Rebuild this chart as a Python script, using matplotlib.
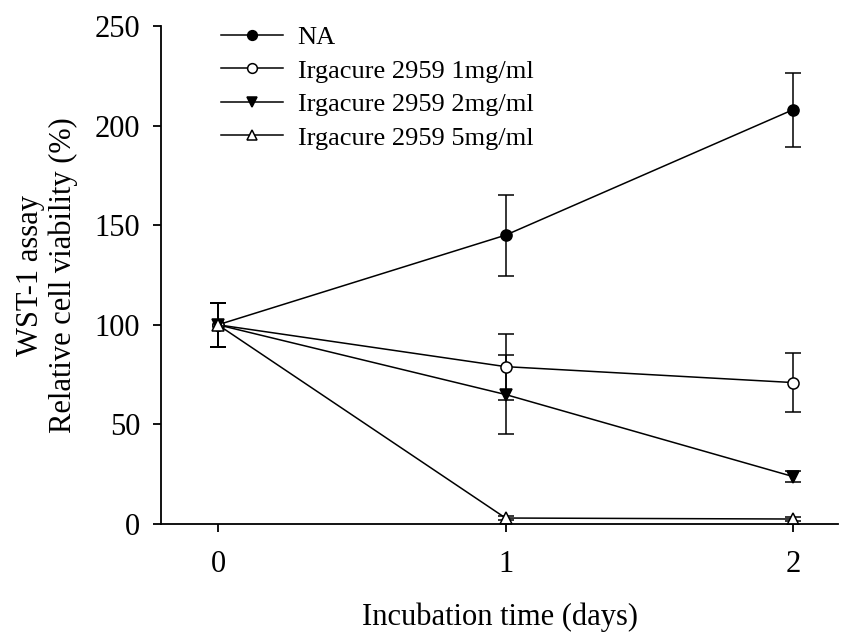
import matplotlib.pyplot as plt
from matplotlib.lines import Line2D

plt.rcParams['font.family'] = ['Liberation Serif', 'DejaVu Serif']

days = [0, 1, 2]
labels = ['NA', 'Irgacure 2959 1mg/ml', 'Irgacure 2959 2mg/ml', 'Irgacure 2959 5mg/ml']
na = [100, 145, 208]
na_err = [11, 20.4, 18.6]
irg1 = [100, 79, 71]
irg1_err = [11, 16.6, 14.6]
irg2 = [100, 65, 23.8]
irg2_err = [11, 20, 2.6]
irg5 = [100, 3, 2.5]
irg5_err = [11, 1, 1]

fig = plt.figure(figsize=(8.44, 6.35), dpi=100)
# axes box in pixels: left spine x=161, right end x=838, bottom y=524, top y=26
ax = fig.add_axes([161 / 844, 111 / 635, (838 - 161) / 844, 498 / 635])

series = [(na, na_err, 'o', 'black'),
          (irg1, irg1_err, 'o', 'white'),
          (irg2, irg2_err, 'v', 'black'),
          (irg5, irg5_err, '^', 'white')]
handles = []
for (vals, errs, mk, fc), lab in zip(series, labels):
    ax.errorbar(days, vals, yerr=errs, marker=mk, markersize=8, markerfacecolor=fc,
                markeredgecolor='black', markeredgewidth=1.1, color='black', lw=1.1,
                ecolor='black', elinewidth=1.1, capsize=6, capthick=1.1)
    handles.append(Line2D([], [], color='black', lw=1.1, marker=mk, markersize=7,
                          markerfacecolor=fc, markeredgecolor='black', markeredgewidth=1.1))

ax.set_xlim(-0.198, 2.156)
ax.set_ylim(0, 250)
ax.set_xticks(days)
ax.set_yticks([0, 50, 100, 150, 200, 250])
ax.spines['top'].set_visible(False)
ax.spines['right'].set_visible(False)
for s in ['left', 'bottom']:
    ax.spines[s].set_linewidth(1.3)
ax.tick_params(direction='out', length=6, width=1.3, labelsize=22)
ax.tick_params(axis='y', pad=9)
ax.tick_params(axis='x', pad=13)
ax.set_xlabel('Incubation time (days)', fontsize=22, labelpad=17)
ax.set_ylabel('WST-1 assay\nRelative cell viability (%)', fontsize=22, labelpad=12,
              linespacing=1.15)

ax.legend(handles, labels, loc='upper left', bbox_to_anchor=(49 / 677, 1.022), frameon=False,
          fontsize=19, handlelength=2.35, handletextpad=0.57, labelspacing=0.38,
          borderaxespad=0)

fig.savefig('out.png', dpi=100)
